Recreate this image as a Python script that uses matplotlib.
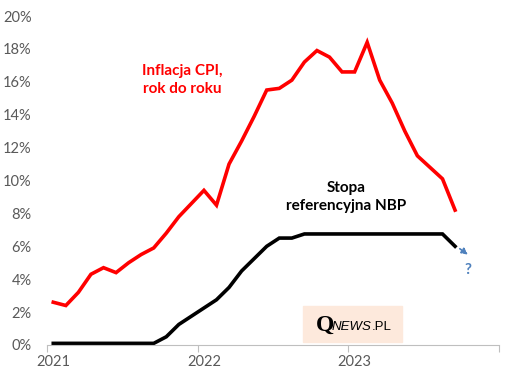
import matplotlib
matplotlib.use("Agg")
import matplotlib.pyplot as plt
from matplotlib.patches import Rectangle

# monthly data, Jan 2021 onward
cpi = [2.6, 2.4, 3.2, 4.3, 4.7, 4.4, 5.0, 5.5, 5.9, 6.8, 7.8, 8.6,
       9.4, 8.5, 11.0, 12.4, 13.9, 15.5, 15.6, 16.1, 17.2, 17.9, 17.5, 16.6,
       16.6, 18.4, 16.1, 14.7, 13.0, 11.5, 10.8, 10.1, 8.2]
ref_rate = [0.1, 0.1, 0.1, 0.1, 0.1, 0.1, 0.1, 0.1, 0.1, 0.5, 1.25, 1.75,
            2.25, 2.75, 3.5, 4.5, 5.25, 6.0, 6.5, 6.5, 6.75, 6.75, 6.75, 6.75,
            6.75, 6.75, 6.75, 6.75, 6.75, 6.75, 6.75, 6.75, 6.0]
years = ["2021", "2022", "2023"]
y_ticks = [0, 2, 4, 6, 8, 10, 12, 14, 16, 18, 20]

plt.rcParams["font.family"] = ["Lato", "DejaVu Sans"]

fig = plt.figure(figsize=(5.14, 3.82), dpi=100)
ax = fig.add_axes([47 / 514, 37 / 382, 452 / 514, 329 / 382])

ax.plot(range(len(cpi)), cpi, color="#ff0000", lw=2.6, solid_joinstyle="miter")
ax.plot(range(len(ref_rate)), ref_rate, color="black", lw=2.6, solid_joinstyle="miter")

ax.set_xlim(-0.5, 35.5)
ax.set_ylim(0, 20)
ax.set_yticks(y_ticks)
ax.set_yticklabels([f"{v}%" for v in y_ticks])
ax.set_xticks([-0.5, 11.5, 23.5, 35.5])
ax.set_xticklabels([])
ax.set_xticks([0, 12, 24], minor=True)
ax.set_xticklabels(years, minor=True)
ax.tick_params(axis="x", which="major", length=5, color="#bfbfbf", direction="out")
ax.tick_params(axis="x", which="minor", length=0, pad=7, labelsize=10.5, labelcolor="#595959")
ax.tick_params(axis="y", length=0, pad=11, labelsize=10.5, labelcolor="#595959")
for s in ["top", "right", "left"]:
    ax.spines[s].set_visible(False)
ax.spines["bottom"].set_color("#bfbfbf")

# forecast arrow
last = len(ref_rate) - 1
ax.annotate("", xy=(last + 1.2, ref_rate[-1] - 0.6), xytext=(last + 0.2, ref_rate[-1] - 0.05),
            arrowprops=dict(arrowstyle="-|>", color="#4f81bd", lw=1.2, ls=(0, (2, 1)),
                            mutation_scale=9))
ax.text(last + 1.05, ref_rate[-1] - 1.45, "?", color="#4f81bd", fontsize=11,
        fontweight="bold", ha="center", va="center")

ax.text(10.3, 16.1, "Inflacja CPI,\nrok do roku", color="#ff0000", fontsize=11,
        fontweight="bold", ha="center", va="center", linespacing=1.4)
ax.text(23.3, 9.0, "Stopa\nreferencyjna NBP", color="black", fontsize=11,
        fontweight="bold", ha="center", va="center", linespacing=1.4)

# logo box
fig.patches.append(Rectangle((303 / 514, 40 / 382), 99 / 514, 36 / 382,
                             transform=fig.transFigure, color="#fde9dc", zorder=0))
fig.text(316 / 514, 57 / 382, "Q", family="Liberation Serif", fontsize=17,
         fontweight="bold", ha="left", va="center")
news = fig.text(332 / 514, 55 / 382, "NEWS", family="Liberation Sans", fontsize=9.5,
                style="italic", ha="left", va="center")
renderer = fig.canvas.get_renderer()
bb = news.get_window_extent(renderer)
fig.text(bb.x1 / 514, 55 / 382, ".PL", family="Liberation Sans", fontsize=9.5,
         ha="left", va="center")

fig.savefig("out.png", dpi=100)
